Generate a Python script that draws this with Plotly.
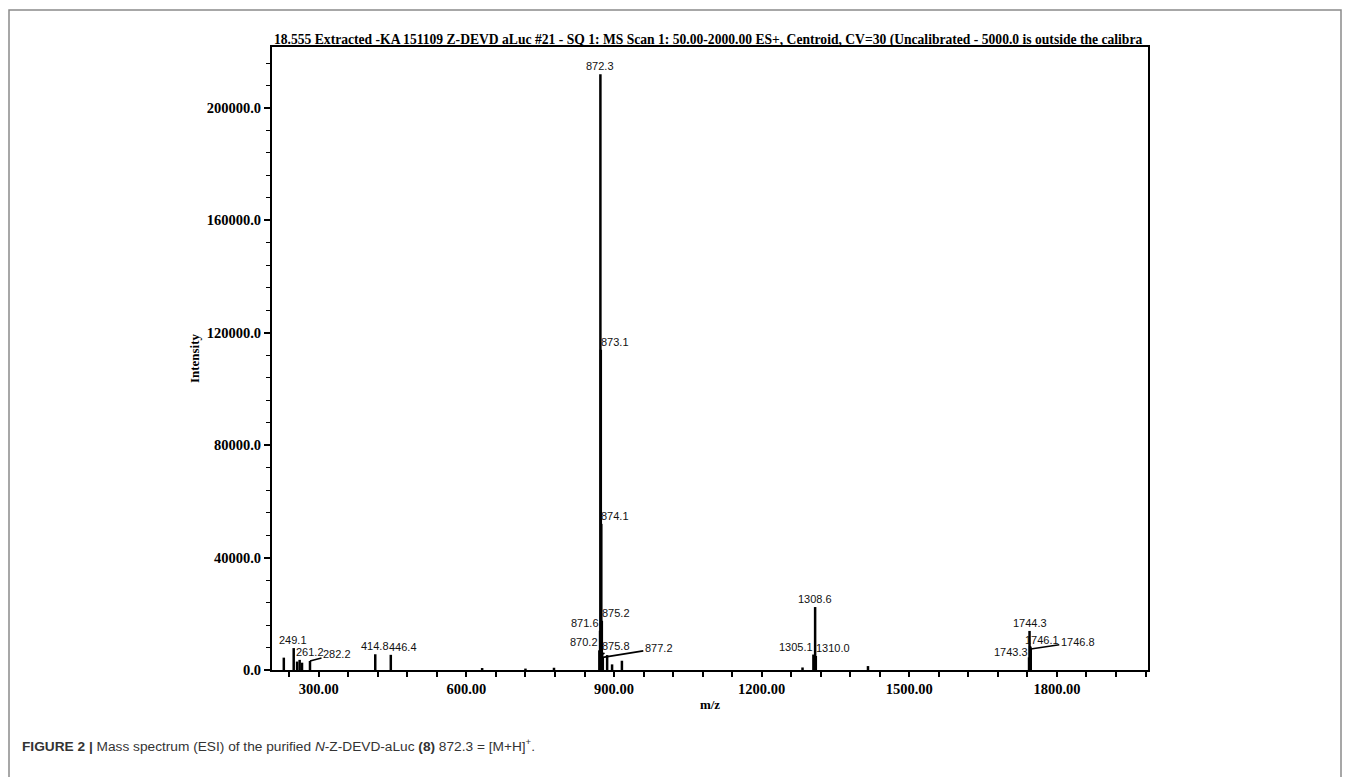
import plotly.graph_objects as go

# ---------------- data ----------------
peak_mz = [229.0, 249.1, 256.0, 261.2, 266.0, 282.2, 414.8, 446.4, 632.0, 720.0, 778.0,
           870.2, 871.6, 872.3, 873.1, 874.1, 875.2, 875.8, 877.2, 886.0, 896.0, 916.0,
           1283.0, 1305.1, 1308.6, 1310.0, 1416.0,
           1743.3, 1744.3, 1745.3, 1746.1, 1746.8]
peak_int = [4400, 7800, 3000, 3600, 2600, 3200, 5600, 5400, 700, 500, 800,
            7000, 14000, 212000, 114000, 52000, 17500, 5500, 4500, 5300, 2000, 3300,
            900, 5500, 22400, 5000, 1400,
            4500, 13900, 8500, 8000, 7500]

label_text = ["249.1", "261.2", "282.2", "414.8", "446.4",
              "870.2", "871.6", "872.3", "873.1", "874.1", "875.2", "875.8", "877.2",
              "1305.1", "1308.6", "1310.0",
              "1743.3", "1744.3", "1746.1", "1746.8"]
label_mz = [249.1, 261.2, 282.2, 414.8, 446.4,
            870.2, 871.6, 872.3, 873.1, 874.1, 875.2, 875.8, 877.2,
            1305.1, 1308.6, 1310.0,
            1743.3, 1744.3, 1746.1, 1746.8]
label_int = [7800, 3600, 3200, 5600, 5400,
             7000, 14000, 212000, 114000, 52000, 17500, 5500, 4500,
             5500, 22400, 5000,
             4500, 13900, 8000, 7500]

x_range = [205, 1985]
y_range = [0, 221700]
x_ticks_major = 300
y_ticks_major = 40000

title_text = ("18.555 Extracted -KA 151109 Z-DEVD aLuc #21 - SQ 1: MS Scan 1: 50.00-2000.00 ES+, "
              "Centroid, CV=30 (Uncalibrated - 5000.0 is outside the calibra")
caption_text = ("<b>FIGURE 2 |</b> Mass spectrum (ESI) of the purified <i>N</i>-Z-DEVD-aLuc "
                "<b>(8)</b> 872.3 = [M+H]<sup>+</sup>.")

# ---------------- label styles (anchor, shifts, leader offsets) ----------------
# (xanchor, yanchor, xshift, yshift, leader_ax, leader_ay)  leader None -> no leader
label_style = {
    "249.1": ("center", "bottom", -1, 0, None, None),
    "261.2": ("left", "bottom", -6, 0, None, None),
    "282.2": ("left", "bottom", 0, 0, 27, -7),
    "414.8": ("center", "bottom", 0, 0, None, None),
    "446.4": ("left", "bottom", -4, 0, None, None),
    "870.2": ("right", "bottom", 1, 0, None, None),
    "871.6": ("right", "bottom", 1, 0, None, None),
    "872.3": ("center", "bottom", 0, 0, None, None),
    "873.1": ("left", "bottom", -2, 0, None, None),
    "874.1": ("left", "bottom", -2, 0, None, None),
    "875.2": ("left", "bottom", -2, 0, None, None),
    "875.8": ("left", "bottom", 0, 0, 14, -9),
    "877.2": ("left", "bottom", 0, 0, 56, -9),
    "1305.1": ("right", "bottom", 2, 0, None, None),
    "1308.6": ("center", "bottom", 0, 0, None, None),
    "1310.0": ("left", "bottom", -2, 0, None, None),
    "1743.3": ("right", "bottom", 1, -3, None, None),
    "1744.3": ("center", "bottom", 0, 0, None, None),
    "1746.1": ("left", "bottom", 0, 0, 12, -8),
    "1746.8": ("left", "bottom", 0, 0, 47, -7),
}

# ---------------- figure ----------------
W, H = 1348, 777
ML, MR, MT, MB = 272, 200, 47, 107
plot_w = W - ML - MR
plot_h = H - MT - MB

xs, ys = [], []
for m, v in zip(peak_mz, peak_int):
    xs += [m, m, None]
    ys += [0, v, None]

fig = go.Figure()
fig.add_trace(go.Scatter(x=xs, y=ys, mode="lines",
                         line=dict(color="black", width=2.5),
                         hoverinfo="skip", showlegend=False))

label_font = dict(family="Liberation Sans, Arial", size=11, color="#111111")
for t, m, v in zip(label_text, label_mz, label_int):
    xa, ya, xsft, ysft, ax, ay = label_style[t]
    if ax is None:
        fig.add_annotation(x=m, y=v, xref="x", yref="y", text=t, showarrow=False,
                           xanchor=xa, yanchor=ya, xshift=xsft, yshift=ysft,
                           font=label_font)
    else:
        fig.add_annotation(x=m, y=v, xref="x", yref="y", text=t, showarrow=True,
                           arrowhead=0, arrowwidth=1.6, arrowcolor="black",
                           ax=ax, ay=ay, standoff=0,
                           font=label_font)

tick_font = dict(family="Liberation Serif, Times New Roman", size=14.5, color="black", weight="bold")
axis_title_font = dict(family="Liberation Serif, Times New Roman", size=13, color="black", weight="bold")
title_font = dict(family="Liberation Serif, Times New Roman", size=13.6, color="black", weight="bold")

fig.update_xaxes(range=x_range, tick0=x_ticks_major, dtick=x_ticks_major, tickformat=".2f",
                 ticks="outside", ticklen=5, tickwidth=1.5, tickcolor="black",
                 showline=True, linewidth=2, linecolor="black", mirror=True,
                 showgrid=False, zeroline=False, tickfont=tick_font,
                 minor=dict(tick0=x_ticks_major, dtick=60, ticks="outside", ticklen=5,
                            tickwidth=1.5, tickcolor="black", showgrid=False),
                 title=dict(text="m/z", font=axis_title_font, standoff=3))
fig.update_yaxes(range=y_range, tick0=0, dtick=y_ticks_major, tickformat=".1f",
                 ticks="outside", ticklen=6, tickwidth=1.5, tickcolor="black",
                 showline=True, linewidth=2, linecolor="black", mirror=True,
                 showgrid=False, zeroline=False, tickfont=tick_font,
                 minor=dict(tick0=0, dtick=8000, ticks="outside", ticklen=4,
                            tickwidth=1.2, tickcolor="black", showgrid=False),
                 title=dict(text="Intensity", font=axis_title_font, standoff=4))

# title (underlined)
fig.add_annotation(xref="paper", yref="paper", x=0, y=1, xanchor="left", yanchor="bottom",
                   yshift=-3, text="<u>" + title_text + "</u>", showarrow=False,
                   font=title_font)

# caption
fig.add_annotation(xref="paper", yref="paper", x=(20 - ML) / plot_w, y=(H - MB - 745) / plot_h,
                   xanchor="left", yanchor="middle", text=caption_text, showarrow=False,
                   font=dict(family="Liberation Sans, Arial", size=13.7, color="#333333"))

# outer frame
fig.add_shape(type="rect", xref="paper", yref="paper",
              x0=(9 - ML) / plot_w, x1=(1341 - ML) / plot_w,
              y0=(H - MB - 800) / plot_h, y1=(H - MB - 10) / plot_h,
              line=dict(color="#8a8a8a", width=1.5), fillcolor="rgba(0,0,0,0)", layer="below")

fig.update_layout(width=W, height=H, margin=dict(l=ML, r=MR, t=MT, b=MB),
                  plot_bgcolor="white", paper_bgcolor="white", showlegend=False)

fig.write_html("out.html", config={"displayModeBar": False},
               post_script="document.body.style.margin='0';document.body.style.overflow='hidden';")
